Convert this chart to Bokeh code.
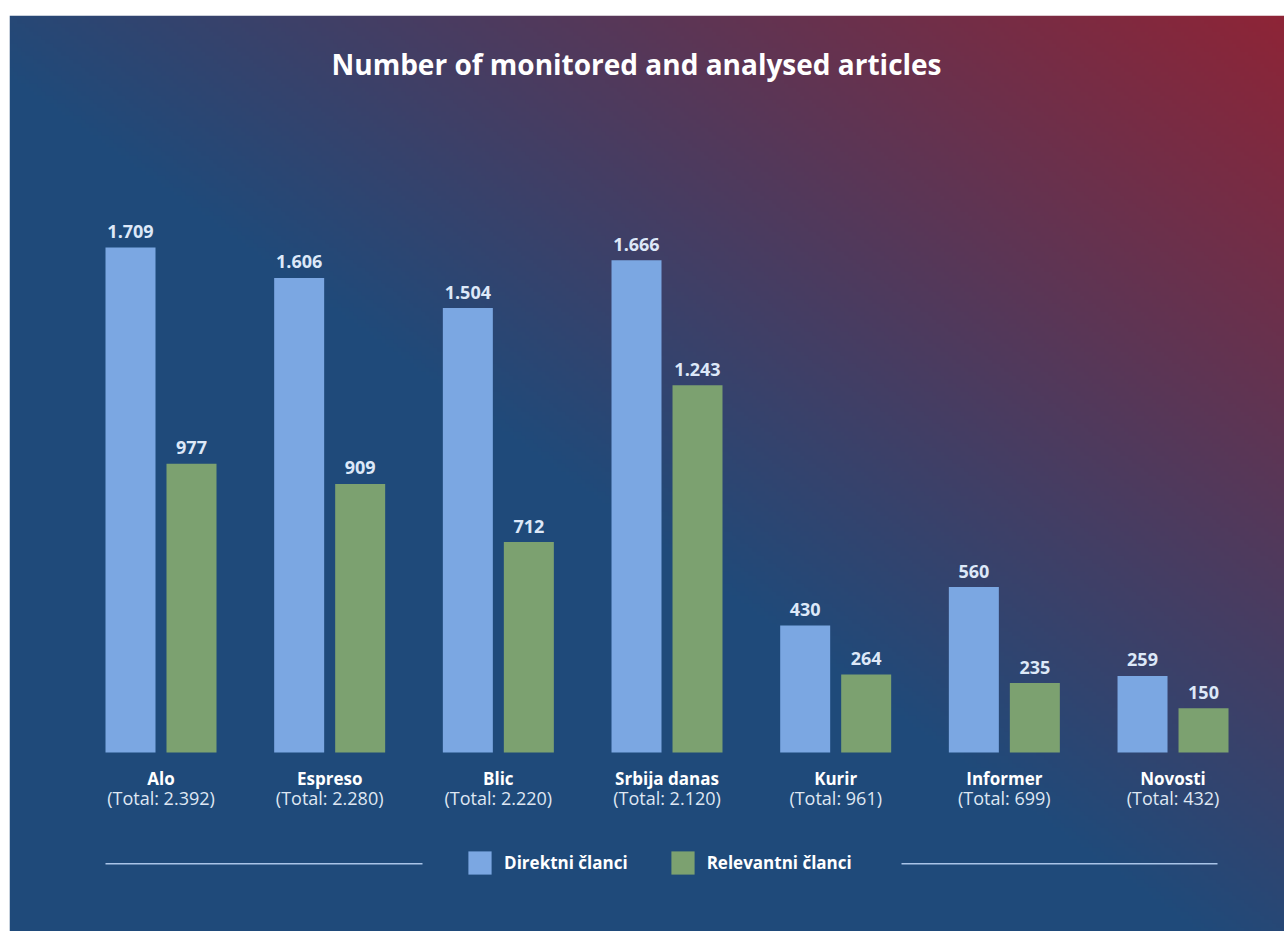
import numpy as np
from bokeh.plotting import figure
from bokeh.models import ColumnDataSource, Range1d, Label, Legend, LegendItem, BoxAnnotation
from bokeh.core.properties import value
from bokeh.embed import file_html
from bokeh.resources import INLINE

# ---- data ----
outlets = ["Alo", "Espreso", "Blic", "Srbija danas", "Kurir", "Informer", "Novosti"]
direktni = [1709, 1606, 1504, 1666, 430, 560, 259]
relevantni = [977, 909, 712, 1243, 264, 235, 150]
totals = [2392, 2280, 2220, 2120, 961, 699, 432]
series_names = ["Direktni članci", "Relevantni članci"]
title_text = "Number of monitored and analysed articles"

def fmt(n):
    return f"{n:,}".replace(",", ".")

FONT = "Open Sans"
BLUE = "#7ba7e2"
GREEN = "#7ca170"

W, H = 1284, 931
ML, MT = 9, 15
FW, FH = W - ML, H - MT

# scales: 168.67 px per outlet, 0.2955 px per article
px_per_cat = 168.67
x0 = -151.5 / px_per_cat
x1 = x0 + FW / px_per_cat
px_per_val = 0.2955
base_from_bottom = 179.0
y0 = -base_from_bottom / px_per_val
y1 = y0 + FH / px_per_val

p = figure(width=W, height=H, output_backend="svg", toolbar_location=None,
           x_range=Range1d(x0, x1), y_range=Range1d(y0, y1),
           min_border_left=ML, min_border_top=MT, min_border_right=0, min_border_bottom=0)
p.border_fill_color = "white"
p.outline_line_color = None
p.axis.visible = False
p.grid.visible = False

# ---- gradient background (to top right) ----
nx, ny = 319, 229
uu = (np.arange(nx) + 0.5) / nx
vv = (np.arange(ny) + 0.5) / ny
UU, VV = np.meshgrid(uu, vv)
s = UU + VV
t = np.clip((s - 0.93) / (2.0 - 0.93), 0, 1)
c0 = np.array([31, 74, 122], dtype=float)
c1 = np.array([142, 36, 54], dtype=float)
rgb = c0[None, None, :] + t[:, :, None] * (c1 - c0)[None, None, :]
img = np.empty((ny, nx), dtype=np.uint32)
view = img.view(dtype=np.uint8).reshape((ny, nx, 4))
view[:, :, 0] = rgb[:, :, 0].round()
view[:, :, 1] = rgb[:, :, 1].round()
view[:, :, 2] = rgb[:, :, 2].round()
view[:, :, 3] = 255
p.image_rgba(image=[img], x=x0, y=y0, dw=x1 - x0, dh=y1 - y0)

# ---- bars ----
idx = list(range(len(outlets)))
off = 30.5 / px_per_cat
bw = 50 / px_per_cat
src = ColumnDataSource(dict(
    x=idx,
    xb=[i - off for i in idx],
    xg=[i + off for i in idx],
    direktni=direktni,
    relevantni=relevantni,
    dlab=[fmt(v) for v in direktni],
    rlab=[fmt(v) for v in relevantni],
    name=outlets,
    total=["(Total: " + fmt(v) + ")" for v in totals],
))

rb = p.vbar(x="xb", top="direktni", bottom=0, width=bw, source=src,
            fill_color=BLUE, line_color=None)
rg = p.vbar(x="xg", top="relevantni", bottom=0, width=bw, source=src,
            fill_color=GREEN, line_color=None)

lab_kw = dict(text_font=value(FONT), text_font_size="18px", text_font_style="bold",
              text_color="#dde8f8", text_align="center", text_baseline="alphabetic")
p.text(x="xb", y="direktni", text="dlab", y_offset=-16, source=src, **lab_kw)
p.text(x="xg", y="relevantni", text="rlab", y_offset=-16, source=src, **lab_kw)

p.text(x="x", y=0, text="name", y_offset=26, source=src,
       text_font=value(FONT), text_font_size="17px", text_font_style="bold",
       text_color="white", text_align="center", text_baseline="alphabetic")
p.text(x="x", y=0, text="total", y_offset=45, source=src,
       text_font=value(FONT), text_font_size="18px",
       text_color="#dfe7f3", text_align="center", text_baseline="alphabetic")

# ---- title ----
p.add_layout(Label(x=627, y=FH - (74.3 - 15) + 11, x_units="screen", y_units="screen",
                   text=title_text, text_font=FONT, text_font_size="28px",
                   text_font_style="bold", text_color="white",
                   text_align="center", text_baseline="alphabetic"))

# ---- legend ----
legend = Legend(items=[LegendItem(label=series_names[0], renderers=[rb]),
                       LegendItem(label=series_names[1], renderers=[rg])],
                orientation="horizontal", location=(456.1, 54.1),
                glyph_width=29, glyph_height=29, label_height=29,
                label_standoff=10, spacing=40, padding=0, margin=0,
                label_text_font=FONT, label_text_font_size="17px",
                label_text_font_style="bold", label_text_color="white",
                background_fill_alpha=0, border_line_alpha=0)
p.add_layout(legend, "center")

# decorative rules beside the legend
for l, r in [(105, 422), (901, 1217)]:
    p.add_layout(BoxAnnotation(left=l - ML, right=r - ML, bottom=931 - 864, top=931 - 862.5,
                               left_units="screen", right_units="screen",
                               bottom_units="screen", top_units="screen",
                               fill_color="#a9c4e8", fill_alpha=1, line_alpha=0))

open("out.html", "w").write(file_html(p, INLINE))
